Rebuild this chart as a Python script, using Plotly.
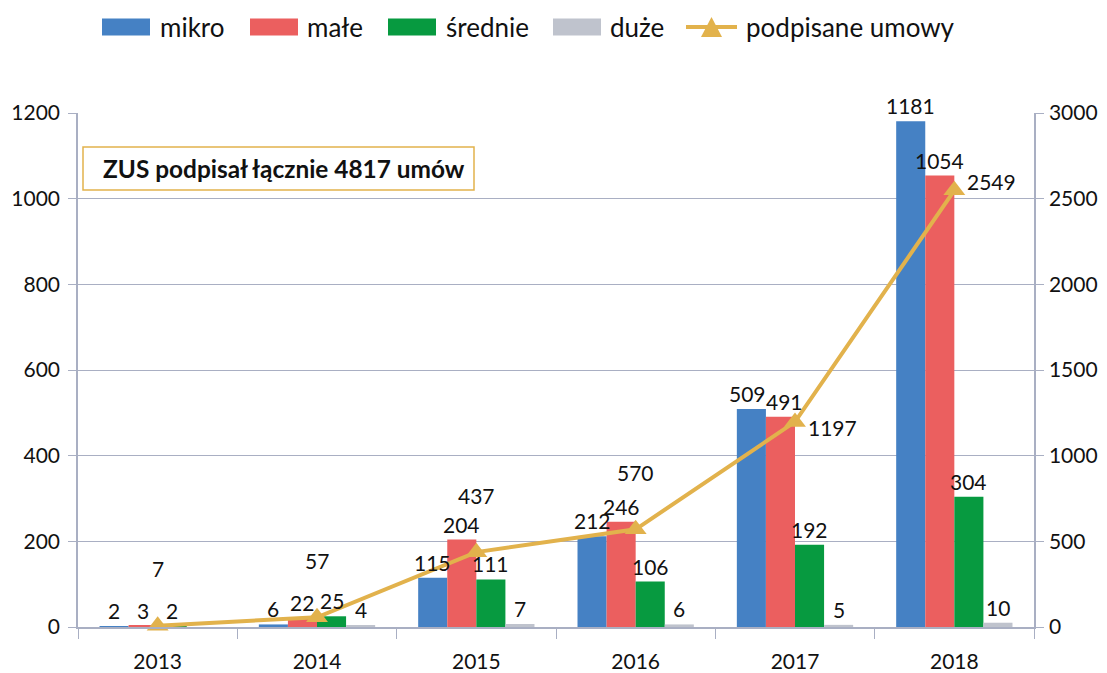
import plotly.graph_objects as go

years = ["2013", "2014", "2015", "2016", "2017", "2018"]
mikro = [2, 6, 115, 212, 509, 1181]
male = [3, 22, 204, 246, 491, 1054]
srednie = [2, 25, 111, 106, 192, 304]
duze = [0, 4, 7, 6, 5, 10]
umowy = [7, 57, 437, 570, 1197, 2549]

series_names = ["mikro", "małe", "średnie", "duże"]
series_vals = [mikro, male, srednie, duze]
colors = ["#4581C4", "#EB5F5F", "#079A40", "#BFC3CD"]
line_color = "#E2B24C"
grid_color = "#A9AFC3"
FONT = "Lato"

W, H = 1107, 673
L, R, T, B = 78, 73, 113, 46
pw, ph = W - L - R, H - T - B
BARGAP = 0.27

def px_x(px):
    return (px - L) / pw

def px_y(py):
    return (H - B - py) / ph

fig = go.Figure()
for name, vals, col in zip(series_names, series_vals, colors):
    fig.add_trace(go.Bar(
        x=years, y=vals, name=name, marker=dict(color=col, line=dict(width=0)),
        showlegend=False,
    ))

# bar value labels (placed over each bar of the group)
bar_w = pw / len(years) * (1 - BARGAP) / len(series_vals)
nudge = {(0, 4): -4, (1, 4): 4}
for j, vals in enumerate(series_vals):
    for i, v in enumerate(vals):
        if not v:
            continue
        fig.add_annotation(x=i, y=v, xref="x", yref="y", text=str(v), showarrow=False,
                           xshift=(j - 1.5) * bar_w + nudge.get((j, i), 0), yshift=1,
                           yanchor="bottom", font=dict(family=FONT, size=21, color="#111"))

fig.add_trace(go.Scatter(
    x=years, y=umowy, yaxis="y2", mode="lines+markers", name="podpisane umowy",
    line=dict(color=line_color, width=4),
    marker=dict(symbol="triangle-up", size=19, color=line_color),
    cliponaxis=False, showlegend=False,
))

# line labels
right_shift = {4: -6, 5: 9}
for i, v in enumerate(umowy):
    if i < 4:
        fig.add_annotation(x=i, y=v, xref="x", yref="y2", text=str(v), showarrow=False,
                           yshift=57, font=dict(family=FONT, size=21, color="#111"))
    else:
        fig.add_annotation(x=i, y=v, xref="x", yref="y2", text=str(v), showarrow=False,
                           xanchor="left", xshift=11, yshift=right_shift[i],
                           font=dict(family=FONT, size=21, color="#111"))

# info box
fig.add_shape(type="rect", xref="paper", yref="paper",
              x0=px_x(83), x1=px_x(474), y0=px_y(190), y1=px_y(147),
              line=dict(color=line_color, width=1.5), fillcolor="white", layer="above")
fig.add_annotation(xref="paper", yref="paper", x=px_x(101), y=px_y(169), xanchor="left",
                   yanchor="middle", showarrow=False,
                   text="<b>ZUS podpisał łącznie 4817 umów</b>",
                   font=dict(family=FONT, size=24.4, color="#111"))

# custom legend
leg_y = 27
rects = [(102, 150), (250, 298), (388, 436), (553, 601)]
text_x = [158, 305, 444, 608]
for (a, b), col, tx, name in zip(rects, colors, text_x, series_names):
    fig.add_shape(type="rect", xref="paper", yref="paper",
                  x0=px_x(a), x1=px_x(b), y0=px_y(leg_y + 8.5), y1=px_y(leg_y - 8.5),
                  line=dict(width=0), fillcolor=col)
    fig.add_annotation(xref="paper", yref="paper", x=px_x(tx), y=px_y(leg_y), xanchor="left",
                       yanchor="middle", showarrow=False, text=name,
                       font=dict(family=FONT, size=26, color="#111"))
fig.add_shape(type="line", xref="paper", yref="paper", x0=px_x(686), x1=px_x(737),
              y0=px_y(leg_y), y1=px_y(leg_y), line=dict(color=line_color, width=4))
fig.add_shape(type="path", xref="paper", yref="paper",
              path="M {} {} L {} {} L {} {} Z".format(px_x(701), px_y(leg_y + 10), px_x(722), px_y(leg_y + 10),
                                                      px_x(711.5), px_y(leg_y - 10)),
              line=dict(width=0), fillcolor=line_color)
fig.add_annotation(xref="paper", yref="paper", x=px_x(744), y=px_y(leg_y), xanchor="left",
                   yanchor="middle", showarrow=False, text="podpisane umowy",
                   font=dict(family=FONT, size=26, color="#111"))

axis_font = dict(family=FONT, size=21, color="#111")
fig.update_layout(
    width=W, height=H,
    margin=dict(l=L, r=R, t=T, b=B, autoexpand=False),
    paper_bgcolor="white", plot_bgcolor="white",
    barmode="group", bargap=BARGAP, bargroupgap=0,
    xaxis=dict(type="category", tickson="boundaries", ticks="outside", ticklen=10,
               tickcolor=grid_color, showline=True, linecolor=grid_color, linewidth=1.5,
               showgrid=False, tickfont=axis_font, ticklabelstandoff=15),
    yaxis=dict(range=[0, 1200], dtick=200, showgrid=True, gridcolor=grid_color, gridwidth=1,
               zeroline=False, showline=True, linecolor=grid_color, linewidth=1.5,
               ticks="outside", ticklen=8, tickcolor=grid_color, tickfont=axis_font,
               ticklabelstandoff=4),
    yaxis2=dict(range=[0, 3000], dtick=500, overlaying="y", side="right", showgrid=False,
                zeroline=False, showline=True, linecolor=grid_color, linewidth=1.5,
                ticks="outside", ticklen=8, tickcolor=grid_color, tickfont=axis_font,
                ticklabelstandoff=1),
    showlegend=False,
)

fig.write_html("out.html", config={"displayModeBar": False},
               post_script="document.body.style.margin='0';")
